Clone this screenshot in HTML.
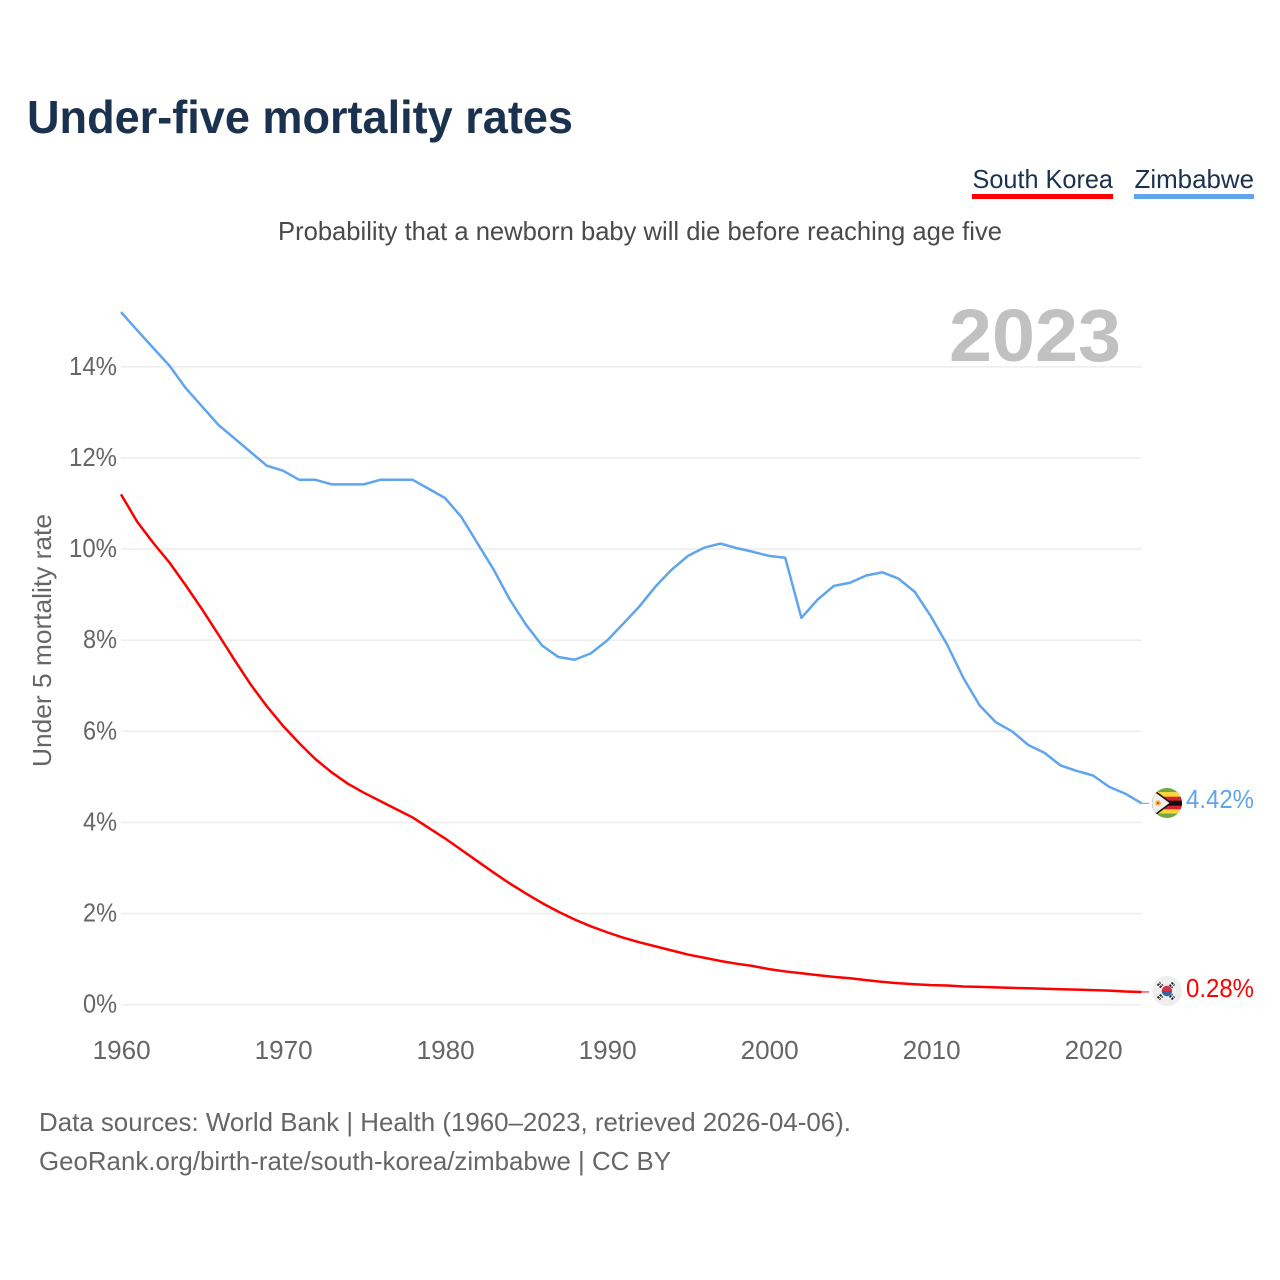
<!DOCTYPE html>
<html lang="en">
<head>
<meta charset="utf-8">
<title>Under-five mortality rates</title>
<style>
html,body{margin:0;padding:0;background:#fff;width:1280px;height:1280px;overflow:hidden}
svg{display:block}
text{font-family:"Liberation Sans",sans-serif}
</style>
</head>
<body>
<svg id="chart" xmlns="http://www.w3.org/2000/svg" width="1280" height="1280" viewBox="0 0 1280 1280">
  <rect width="1280" height="1280" fill="#fff"/>
  <text x="27" y="133" font-size="46" font-weight="700" fill="#1a3150" textLength="546" lengthAdjust="spacingAndGlyphs">Under-five mortality rates</text>

  <g>
    <text x="972.5" y="188" font-size="26" fill="#1a3150" textLength="140.5" lengthAdjust="spacingAndGlyphs">South Korea</text>
    <rect x="972" y="194" width="141" height="5" fill="#ff0000"/>
  </g>
  <g>
    <text x="1134.5" y="188" font-size="26" fill="#1a3150" textLength="119.5" lengthAdjust="spacingAndGlyphs">Zimbabwe</text>
    <rect x="1134" y="194" width="120" height="5" fill="#5ea5ee"/>
  </g>

  <text x="278" y="240" font-size="26" fill="#4a4a4a" textLength="724" lengthAdjust="spacingAndGlyphs">Probability that a newborn baby will die before reaching age five</text>

  <g id="grid"></g>
  <g id="yticks"></g>
  <g id="xticks"></g>

  <text x="949" y="361" font-size="74" font-weight="700" fill="#c1c1c1" textLength="172" lengthAdjust="spacingAndGlyphs">2023</text>
  <text transform="translate(51,767) rotate(-90)" font-size="26" fill="#666666" textLength="253" lengthAdjust="spacingAndGlyphs">Under 5 mortality rate</text>

  <g id="series"></g>

  <defs>
    <clipPath id="clip-zw"><circle cx="1167" cy="803" r="15"/></clipPath>
    <clipPath id="clip-kr"><circle cx="1167" cy="991" r="15"/></clipPath>
  </defs>

  <g clip-path="url(#clip-zw)">
    <rect x="1152" y="788" width="30" height="30" fill="#75a843"/>
    <rect x="1152" y="792" width="30" height="21.5" fill="#f7d83c"/>
    <rect x="1152" y="796.7" width="30" height="12.6" fill="#d8232f"/>
    <rect x="1152" y="800.7" width="30" height="5" fill="#111111"/>
    <polygon points="1152,788 1152,818 1172,803" fill="#111111"/>
    <polygon points="1152,790 1152,816 1169.5,803" fill="#efefef"/>
    <circle cx="1158" cy="803" r="2.8" fill="#f5b43c"/>
    <circle cx="1158" cy="803" r="1" fill="#d8232f"/>
  </g>
  <g clip-path="url(#clip-kr)">
    <rect x="1152" y="976" width="30" height="30" fill="#eeeeee"/>
    <path d="M1161.7 991a5.2 5.2 0 0 1 10.4 0z" fill="#d8304a"/>
    <path d="M1161.7 991a5.2 5.2 0 0 0 10.4 0z" fill="#36639c"/>
    <g stroke="#222222" stroke-width="1.8" stroke-dasharray="2.5 .7">
      <line x1="1157.5" y1="985.5" x2="1160.5" y2="982.5"/>
      <line x1="1159.7" y1="987.5" x2="1162.7" y2="984.5"/>
      <line x1="1171.5" y1="982.5" x2="1174.5" y2="985.5"/>
      <line x1="1169.5" y1="984.7" x2="1172.5" y2="987.7"/>
      <line x1="1157.5" y1="996.5" x2="1160.5" y2="999.5"/>
      <line x1="1159.7" y1="994.5" x2="1162.7" y2="997.5"/>
      <line x1="1171.5" y1="999.5" x2="1174.5" y2="996.5"/>
      <line x1="1169.5" y1="997.3" x2="1172.5" y2="994.3"/>
    </g>
  </g>

  <text id="label-zw" x="1186" y="808" font-size="26" fill="#5ea5ee" textLength="68" lengthAdjust="spacingAndGlyphs"></text>
  <text id="label-kr" x="1186" y="997" font-size="26" fill="#ff0000" textLength="68" lengthAdjust="spacingAndGlyphs"></text>

  <text x="39" y="1131" font-size="26" fill="#666666" textLength="812" lengthAdjust="spacingAndGlyphs">Data sources: World Bank | Health (1960–2023, retrieved 2026-04-06).</text>
  <text x="39" y="1170" font-size="26" fill="#666666" textLength="632" lengthAdjust="spacingAndGlyphs">GeoRank.org/birth-rate/south-korea/zimbabwe | CC BY</text>
</svg>

<script>
const startYear = 1960;
const yTickValues = [0, 2, 4, 6, 8, 10, 12, 14];
const xTickValues = [1960, 1970, 1980, 1990, 2000, 2010, 2020];
const zimbabweValues = [
  15.2, 14.8, 14.41, 14.02, 13.53, 13.13, 12.73, 12.43, 12.13, 11.83,
  11.72, 11.52, 11.52, 11.42, 11.42, 11.42, 11.52, 11.52, 11.52, 11.32,
  11.12, 10.71, 10.13, 9.55, 8.89, 8.34, 7.88, 7.63, 7.57, 7.71,
  7.99, 8.36, 8.74, 9.18, 9.55, 9.85, 10.03, 10.12, 10.02, 9.94,
  9.85, 9.81, 8.49, 8.89, 9.19, 9.26, 9.42, 9.49, 9.35, 9.06,
  8.52, 7.9, 7.17, 6.57, 6.2, 6.0, 5.7, 5.53, 5.25, 5.13,
  5.03, 4.78, 4.63, 4.42
];
const southKoreaValues = [
  11.2, 10.6, 10.13, 9.7, 9.2, 8.68, 8.13, 7.57, 7.03, 6.55,
  6.12, 5.74, 5.39, 5.1, 4.85, 4.65, 4.47, 4.29, 4.11, 3.88,
  3.65, 3.4, 3.15, 2.9, 2.66, 2.44, 2.23, 2.04, 1.87, 1.72,
  1.59, 1.47, 1.37, 1.28, 1.19, 1.1, 1.03, 0.96, 0.9, 0.85,
  0.78, 0.73, 0.69, 0.65, 0.61, 0.58, 0.54, 0.5, 0.47, 0.45,
  0.43, 0.42, 0.4, 0.39, 0.38, 0.37, 0.36, 0.35, 0.34, 0.33,
  0.32, 0.31, 0.29, 0.28
];

const NS = 'http://www.w3.org/2000/svg';
const plotLeft = 121;
const plotRight = 1141.6;
const pxPerYear = (plotRight - plotLeft) / 63;
const zeroY = 1004.7;
const pxPerPercent = 45.565;
const xScale = function (year) { return plotLeft + (year - startYear) * pxPerYear; };
const yScale = function (value) { return zeroY - value * pxPerPercent; };

const gridGroup = document.getElementById('grid');
const yTickGroup = document.getElementById('yticks');
const xTickGroup = document.getElementById('xticks');
const seriesGroup = document.getElementById('series');

yTickValues.forEach(function (v) {
  const line = document.createElementNS(NS, 'line');
  
  
  line.setAttribute('x1', plotLeft);
  line.setAttribute('x2', plotRight);
  line.setAttribute('y1', yScale(v));
  line.setAttribute('y2', yScale(v));
  line.setAttribute('stroke', '#eeeeee');
  line.setAttribute('stroke-width', '1.6');
  gridGroup.appendChild(line);

  const label = document.createElementNS(NS, 'text');
  
  
  label.setAttribute('x', 117);
  label.setAttribute('y', yScale(v) + 8);
  label.setAttribute('text-anchor', 'end');
  label.setAttribute('font-size', '26');
  label.setAttribute('fill', '#666666');
  label.setAttribute('textLength', v >= 10 ? 48 : 34);
  label.setAttribute('lengthAdjust', 'spacingAndGlyphs');
  label.textContent = v + '%';
  yTickGroup.appendChild(label);
});

xTickValues.forEach(function (year) {
  const label = document.createElementNS(NS, 'text');
  
  
  label.setAttribute('x', xScale(year) + 0.7);
  label.setAttribute('y', 1059);
  label.setAttribute('text-anchor', 'middle');
  label.setAttribute('font-size', '26');
  label.setAttribute('fill', '#666666');
  label.setAttribute('textLength', 58);
  label.setAttribute('lengthAdjust', 'spacingAndGlyphs');
  label.textContent = year;
  xTickGroup.appendChild(label);
});

function linePoints(values) {
  return values.map(function (v, i) {
    return xScale(startYear + i).toFixed(2) + ',' + yScale(v).toFixed(2);
  }).join(' ');
}

const zimbabweLine = document.createElementNS(NS, 'polyline');


zimbabweLine.setAttribute('points', linePoints(zimbabweValues));
zimbabweLine.setAttribute('fill', 'none');
zimbabweLine.setAttribute('stroke', '#5ea5ee');
zimbabweLine.setAttribute('stroke-width', '2.5');
zimbabweLine.setAttribute('stroke-linejoin', 'round');
seriesGroup.appendChild(zimbabweLine);

const koreaLine = document.createElementNS(NS, 'polyline');


koreaLine.setAttribute('points', linePoints(southKoreaValues));
koreaLine.setAttribute('fill', 'none');
koreaLine.setAttribute('stroke', '#ff0000');
koreaLine.setAttribute('stroke-width', '2.5');
koreaLine.setAttribute('stroke-linejoin', 'round');
seriesGroup.appendChild(koreaLine);

const zimbabweLast = zimbabweValues[zimbabweValues.length - 1];
const koreaLast = southKoreaValues[southKoreaValues.length - 1];

const zimbabweConnector = document.createElementNS(NS, 'line');


zimbabweConnector.setAttribute('x1', plotRight);
zimbabweConnector.setAttribute('x2', 1149);
zimbabweConnector.setAttribute('y1', yScale(zimbabweLast));
zimbabweConnector.setAttribute('y2', yScale(zimbabweLast));
zimbabweConnector.setAttribute('stroke', '#5ea5ee');
zimbabweConnector.setAttribute('stroke-width', '1');
seriesGroup.appendChild(zimbabweConnector);

const koreaConnector = document.createElementNS(NS, 'line');


koreaConnector.setAttribute('x1', plotRight);
koreaConnector.setAttribute('x2', 1149);
koreaConnector.setAttribute('y1', yScale(koreaLast));
koreaConnector.setAttribute('y2', yScale(koreaLast));
koreaConnector.setAttribute('stroke', '#ff0000');
koreaConnector.setAttribute('stroke-width', '1');
seriesGroup.appendChild(koreaConnector);

document.getElementById('label-zw').textContent = zimbabweLast.toFixed(2) + '%';
document.getElementById('label-kr').textContent = koreaLast.toFixed(2) + '%';
</script>
</body>
</html>
